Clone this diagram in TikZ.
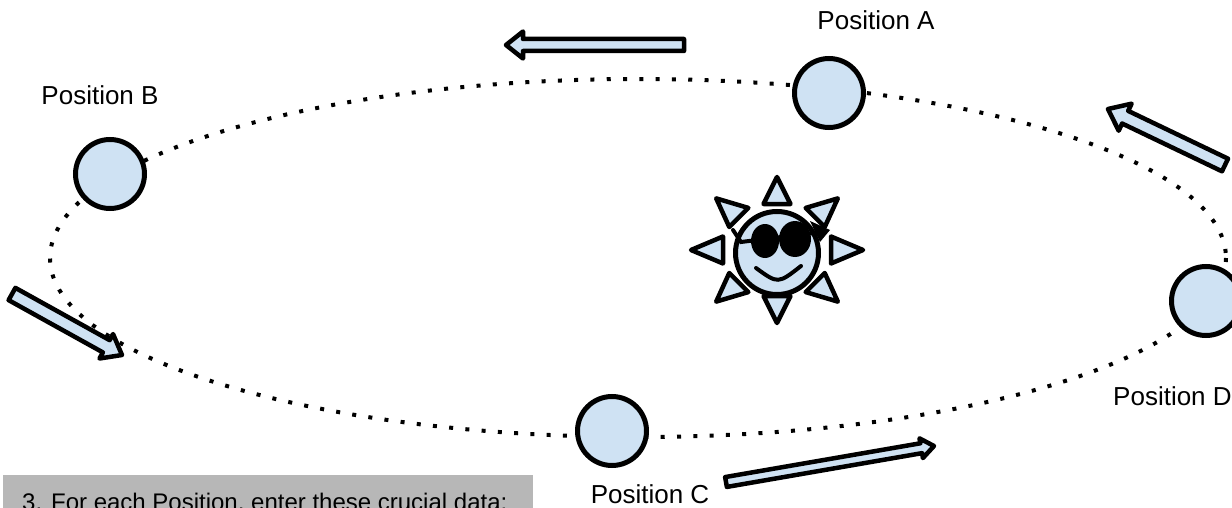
\documentclass[tikz,border=0pt]{standalone}
\usepackage{fontspec}
\setmainfont{Liberation Sans}
\usetikzlibrary{calc}

\definecolor{planetblue}{HTML}{CFE2F3}
\definecolor{boxgrey}{HTML}{B7B7B7}

\tikzset{
  orbit/.style={line width=4pt, dash pattern=on 4pt off 12.3pt},
  planet/.style={circle, draw=black, line width=5pt, fill=planetblue,
                 minimum size=69pt, inner sep=0pt},
  blockarrow/.style={draw=black, line width=4.5pt, fill=planetblue, line join=round},
  ray/.style={draw=black, line width=4.5pt, fill=planetblue, line join=round},
  label/.style={inner sep=0pt, anchor=base, font=\fontsize{26}{30}\selectfont},
}

% block arrow: prefix, tail, tip, shaft half width, head half width, head length
\newcommand\blockarrow[6]{%
  \coordinate (#1t) at (#2);
  \coordinate (#1e) at (#3);
  \coordinate (#1b) at ($(#1e)!#6!(#1t)$);
  \draw[blockarrow] ($(#1t)!#4!90:(#1e)$) -- ($(#1b)!#4!90:(#1e)$)
    -- ($(#1b)!#5!90:(#1e)$) -- (#1e) -- ($(#1b)!#5!-90:(#1e)$)
    -- ($(#1b)!#4!-90:(#1e)$) -- ($(#1t)!#4!-90:(#1e)$) -- cycle;
}

\begin{document}
\begin{tikzpicture}[x=1pt, y=-1pt]
  \useasboundingbox (0,0) rectangle (1232,508);
  \clip (0,0) rectangle (1232,508);

  % orbit
  \draw[orbit] (638,258) ellipse [x radius=588, y radius=179];

  % planets
  \node[planet] (A) at (829,93) {};
  \node[planet] (B) at (110,174) {};
  \node[planet] (C) at (612,431) {};
  \node[planet] (D) at (1206,301) {};

  % sun rays
  \coordinate (sun) at (777,250);
  \foreach \a in {0,45,...,315} {
    \draw[ray] ({777+86*cos(\a)},{250+73*sin(\a)})
      -- ({777+54*cos(\a)-13.5*sin(\a)},{250+46*sin(\a)+13.5*cos(\a)})
      -- ({777+54*cos(\a)+13.5*sin(\a)},{250+46*sin(\a)-13.5*cos(\a)}) -- cycle;
  }
  % sun face
  \node[circle, draw=black, line width=5pt, fill=planetblue, minimum size=83pt,
        inner sep=0pt] (face) at (777,253) {};
  % sunglasses
  \draw[line width=4pt, line cap=round] (733,230) -- (741,242) -- (822,232);
  \fill[black] (810,221) -- (830,230) -- (820,242) -- cycle;
  \fill[black] (765,241) ellipse [x radius=14, y radius=17];
  \fill[black] (795,239) ellipse [x radius=16, y radius=18];
  % smile
  \draw[line width=4pt, line cap=round] (756,268) .. controls (778,284) .. (801,266);

  % motion arrows
  \blockarrow{ar1}{684,45}{506,45}{6pt}{13.5pt}{17pt}
  \blockarrow{ar2}{1225,165}{1108,109}{7pt}{15pt}{19pt}
  \blockarrow{ar3}{12,294}{122,355}{7pt}{14pt}{18pt}
  \blockarrow{ar4}{726,482}{934,446}{5pt}{10pt}{13pt}

  % labels
  \node[label] (la) at (876,30) {Position A};
  \node[label] (lb) at (100,105) {Position B};
  \node[label] (lc) at (650,503) {Position C};
  \node[label, anchor=base west] (ld) at (1113,405) {Position D};

  % instruction box
  \fill[boxgrey] (3,475) rectangle (533,520);
  \node[inner sep=0pt, anchor=base west, font=\fontsize{24}{28}\selectfont] (task)
    at (22,510) {3. For each Position, enter these crucial data:};
\end{tikzpicture}
\end{document}
